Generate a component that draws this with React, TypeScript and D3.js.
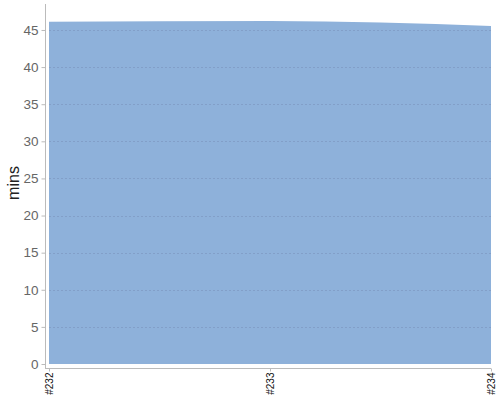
import React, { useEffect, useRef } from "react";
import * as d3 from "d3";

const builds = ["#232", "#233", "#234"];
const durations = [46.1, 46.2, 45.55];
const yTicks = [0, 5, 10, 15, 20, 25, 30, 35, 40, 45];

const App: React.FC = () => {
  const ref = useRef<SVGSVGElement | null>(null);

  useEffect(() => {
    if (!ref.current) return;
    const svg = d3.select(ref.current);
    svg.selectAll("*").remove();

    const left = 49;
    const right = 491;
    const font = "'Liberation Sans', Arial, sans-serif";

    const x = d3.scalePoint<string>().domain(builds).range([left, right]);
    const y = d3.scaleLinear().domain([0, 48.5]).range([364, 4]);

    const rows = builds.map((b, i) => ({ build: b, value: durations[i] }));

    // filled area
    svg
      .append("path")
      .datum(rows)
      .attr("fill", "#8eb1da")
      .attr(
        "d",
        d3
          .area<any>()
          .x((d) => x(d.build)!)
          .y0(y(0))
          .y1((d) => y(d.value))
          .curve(d3.curveMonotoneX)
      );

    // dashed grid over the area
    svg
      .append("g")
      .selectAll("line")
      .data(yTicks.filter((t) => t > 0))
      .enter()
      .append("line")
      .attr("x1", left)
      .attr("x2", right)
      .attr("y1", (d) => Math.round(y(d)) + 0.5)
      .attr("y2", (d) => Math.round(y(d)) + 0.5)
      .attr("stroke", "#829fc8")
      .attr("stroke-width", 1)
      .attr("stroke-dasharray", "2,2");

    // y axis
    const yAxis = svg
      .append("g")
      .attr("transform", "translate(45.5,0)")
      .call(d3.axisLeft(y).tickValues(yTicks).tickSize(4).tickPadding(3));
    yAxis.select(".domain").remove();
    yAxis.selectAll(".tick line").attr("stroke", "#bbb");
    yAxis
      .selectAll(".tick text")
      .attr("fill", "#666")
      .attr("font-size", 13.5)
      .attr("font-family", font);
    svg
      .append("line")
      .attr("x1", 45.5)
      .attr("x2", 45.5)
      .attr("y1", 4)
      .attr("y2", 368)
      .attr("stroke", "#bbb");

    // x axis
    const xAxis = svg
      .append("g")
      .attr("transform", "translate(0,368.5)")
      .call(d3.axisBottom(x).tickSize(3).tickPadding(4));
    xAxis.select(".domain").remove();
    xAxis.selectAll(".tick line").attr("stroke", "#bbb");
    xAxis
      .selectAll(".tick text")
      .attr("fill", "#111")
      .attr("font-size", 10)
      .attr("font-family", font)
      .attr("transform", "rotate(-90)")
      .attr("text-anchor", "end")
      .attr("dy", "0.35em")
      .attr("x", -4)
      .attr("y", 0);
    svg
      .append("line")
      .attr("x1", 45)
      .attr("x2", right)
      .attr("y1", 368.5)
      .attr("y2", 368.5)
      .attr("stroke", "#bbb");

    // y label
    svg
      .append("text")
      .attr("transform", "translate(19,183) rotate(-90)")
      .attr("text-anchor", "middle")
      .attr("fill", "#222")
      .attr("font-size", 16)
      .attr("font-family", font)
      .text("mins");
  }, []);

  return (
    <svg
      ref={ref}
      width={500}
      height={400}
      style={{ position: "absolute", left: 0, top: 0 }}
    ></svg>
  );
};

export default App;
